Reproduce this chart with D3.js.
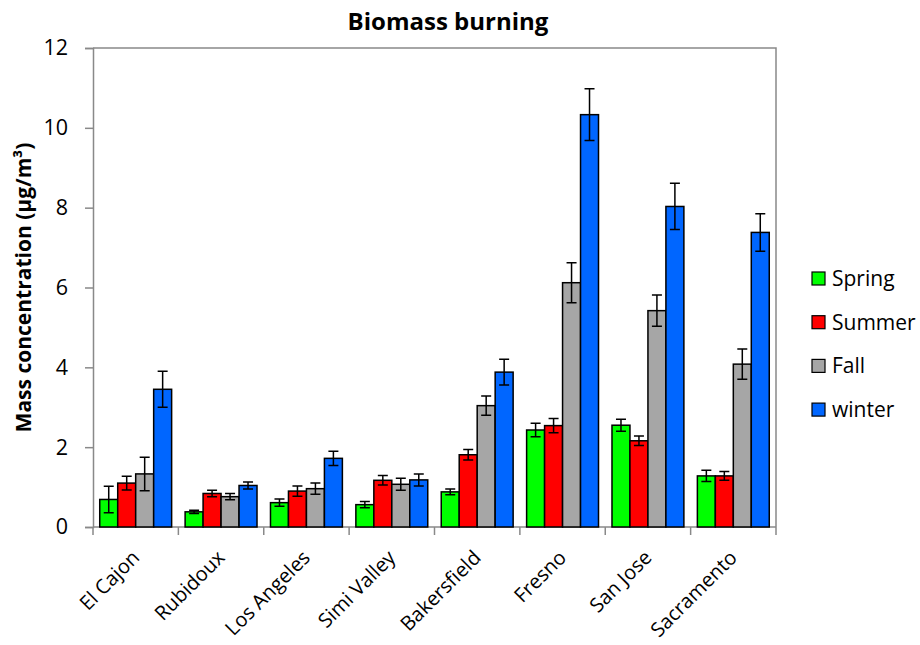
<!DOCTYPE html>
<html>
<head>
<meta charset="utf-8">
<script src="https://cdn.jsdelivr.net/npm/d3@7"></script>
<style>
  body { margin: 0; background: #fff; }
  svg text { font-family: "Open Sans", sans-serif; fill: #000; }
</style>
</head>
<body>
<div id="chart"></div>
<script>
// sites and seasons
var sites = ["El Cajon", "Rubidoux", "Los Angeles", "Simi Valley", "Bakersfield", "Fresno", "San Jose", "Sacramento"];
var seasons = ["Spring", "Summer", "Fall", "winter"];
var colors = ["#00ff00", "#ff0000", "#a6a6a6", "#0066ff"];

// values (µg/m3)
var spring = [0.69, 0.38, 0.61, 0.56, 0.88, 2.43, 2.55, 1.28];
var summer = [1.10, 0.84, 0.90, 1.17, 1.81, 2.54, 2.16, 1.28];
var fall   = [1.33, 0.76, 0.96, 1.07, 3.04, 6.12, 5.42, 4.08];
var winter = [3.45, 1.04, 1.72, 1.18, 3.88, 10.33, 8.03, 7.38];

// error bars (+/-)
var springErr = [0.33, 0.04, 0.09, 0.08, 0.075, 0.17, 0.15, 0.14];
var summerErr = [0.17, 0.08, 0.13, 0.12, 0.13, 0.18, 0.12, 0.11];
var fallErr   = [0.42, 0.08, 0.14, 0.15, 0.24, 0.50, 0.39, 0.38];
var winterErr = [0.45, 0.09, 0.18, 0.15, 0.32, 0.65, 0.58, 0.47];

var yTicks = [0, 2, 4, 6, 8, 10, 12];

var values = [spring, summer, fall, winter];
var errs = [springErr, summerErr, fallErr, winterErr];

var W = 920, H = 645;
var margin = {left: 93, right: 144, top: 48, bottom: 118};
var pw = W - margin.left - margin.right;
var ph = H - margin.top - margin.bottom;

var svg = d3.select('#chart').append('svg')
    .attr('width', W)
    .attr('height', H);

var g = svg.append('g')
    .attr('transform', 'translate(' + margin.left + ',' + margin.top + ')');

var x0 = d3.scaleBand().domain(sites).range([0, pw]).paddingInner(0).paddingOuter(0);
var x1 = d3.scaleBand().domain(seasons).range([0, x0.bandwidth()]).paddingOuter(0.375).paddingInner(0);
var y = d3.scaleLinear().domain([0, 12]).range([ph, 0]);

// frame (top and right)
g.append('path')
    .attr('d', 'M0,0H' + pw + 'V' + ph)
    .attr('fill', 'none')
    .attr('stroke', '#898989')
    .attr('stroke-width', 1.5);

// y axis
var yAxis = g.append('g')
    .call(d3.axisLeft(y).tickValues(yTicks).tickSize(8).tickPadding(17).tickFormat(d3.format('d')));
yAxis.select('.domain').attr('stroke', '#898989').attr('stroke-width', 1.5);
yAxis.selectAll('.tick line').attr('stroke', '#898989').attr('stroke-width', 1.5);
yAxis.selectAll('.tick text').style('font-size', '21.5px').attr('fill', '#000');

// x axis: ticks at category boundaries
var xg = g.append('g').attr('transform', 'translate(0,' + ph + ')');
xg.append('line').attr('x1', 0).attr('x2', pw).attr('stroke', '#898989').attr('stroke-width', 1.5);
xg.selectAll('.xt')
    .data(d3.range(sites.length + 1))
    .enter().append('line')
    .attr('x1', d => d * x0.step())
    .attr('x2', d => d * x0.step())
    .attr('y1', 0).attr('y2', 8)
    .attr('stroke', '#898989').attr('stroke-width', 1.5);
xg.selectAll('.xl')
    .data(sites)
    .enter().append('text')
    .attr('transform', d => 'translate(' + (x0(d) + x0.bandwidth() / 2 - 5) + ',22) rotate(-45)')
    .attr('text-anchor', 'end')
    .attr('dy', '0.7em')
    .style('font-size', '20px')
    .text(d => d);

// bars
var groups = g.selectAll('.site')
    .data(sites)
    .enter().append('g')
    .attr('transform', d => 'translate(' + x0(d) + ',0)');

groups.selectAll('rect')
    .data((d, i) => seasons.map((s, k) => ({s: s, k: k, v: values[k][i], e: errs[k][i]})))
    .enter().append('rect')
    .attr('x', d => x1(d.s))
    .attr('y', d => y(d.v))
    .attr('width', x1.bandwidth())
    .attr('height', d => y(0) - y(d.v))
    .attr('fill', d => colors[d.k])
    .attr('stroke', '#000')
    .attr('stroke-width', 1.5);

// error bars
var eb = groups.selectAll('.err')
    .data((d, i) => seasons.map((s, k) => ({s: s, k: k, v: values[k][i], e: errs[k][i]})))
    .enter().append('path')
    .attr('d', function (d) {
        var cx = x1(d.s) + x1.bandwidth() / 2;
        var hi = y(d.v + d.e), lo = y(d.v - d.e);
        return 'M' + (cx - 5) + ',' + hi + 'H' + (cx + 5) +
               'M' + cx + ',' + hi + 'V' + lo +
               'M' + (cx - 5) + ',' + lo + 'H' + (cx + 5);
    })
    .attr('fill', 'none')
    .attr('stroke', '#000')
    .attr('stroke-width', 1.5);

// title
svg.append('text')
    .attr('x', 448)
    .attr('y', 30)
    .attr('text-anchor', 'middle')
    .style('font-size', '24px')
    .style('font-weight', 'bold')
    .text('Biomass burning');

// y label
svg.append('text')
    .attr('transform', 'translate(31,' + (margin.top + ph / 2) + ') rotate(-90)')
    .attr('text-anchor', 'middle')
    .style('font-size', '21px')
    .style('font-weight', 'bold')
    .text('Mass concentration (µg/m³)');

// legend
var leg = svg.append('g').attr('transform', 'translate(812,272)');
var li = leg.selectAll('g')
    .data(seasons)
    .enter().append('g')
    .attr('transform', (d, i) => 'translate(0,' + (i * 43.7) + ')');
li.append('rect')
    .attr('width', 13).attr('height', 13)
    .attr('fill', (d, i) => colors[i])
    .attr('stroke', '#000').attr('stroke-width', 1.2);
li.append('text')
    .attr('x', 20).attr('y', 6.5).attr('dy', '0.35em')
    .style('font-size', '21px')
    .text(d => d);
</script>
</body>
</html>
